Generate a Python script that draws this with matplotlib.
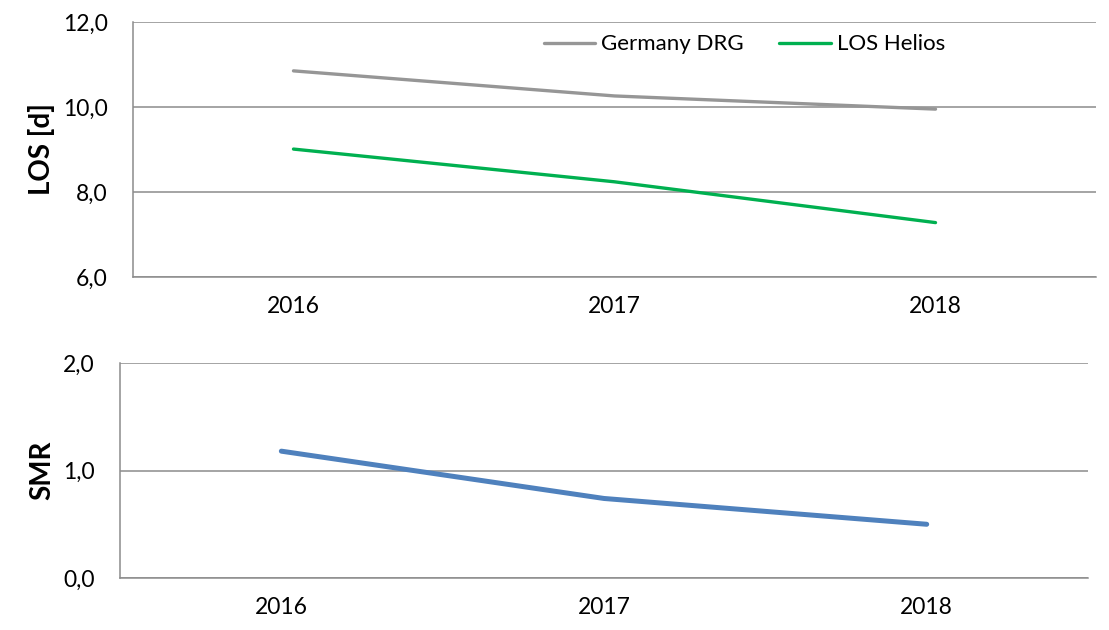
import matplotlib
matplotlib.use("Agg")
import matplotlib.pyplot as plt
from matplotlib.ticker import FuncFormatter

plt.rcParams['font.family'] = ['Lato', 'DejaVu Sans']

years = ['2016', '2017', '2018']
los_germany = [10.85, 10.26, 9.95]
los_helios = [9.01, 8.24, 7.28]
smr = [1.18, 0.74, 0.50]

GRID = '#8c8c8c'


def comma_fmt(v, pos):
    return f'{v:.1f}'.replace('.', ',')


def style_axis(ax, yticks, ylabel):
    ax.set_xlim(-0.5, len(years) - 0.5)
    ax.set_xticks(range(len(years)))
    ax.set_xticklabels(years)
    ax.set_ylim(yticks[0], yticks[-1])
    ax.set_yticks(yticks)
    ax.yaxis.set_major_formatter(FuncFormatter(comma_fmt))
    ax.tick_params(axis='both', length=0, labelsize=16.5)
    ax.tick_params(axis='y', pad=18)
    ax.tick_params(axis='x', pad=14)
    ax.grid(axis='y', color=GRID, linewidth=1.1)
    ax.set_axisbelow(True)
    for s in ['top', 'right']:
        ax.spines[s].set_visible(False)
    for s in ['left', 'bottom']:
        ax.spines[s].set_color(GRID)
        ax.spines[s].set_linewidth(1.1)
    ax.set_ylabel(ylabel, fontsize=20, fontweight='bold', labelpad=6)


fig = plt.figure(figsize=(11.09, 6.30), dpi=100)
ax1 = fig.add_axes([0.1199, 0.5603, 0.8684, 0.4048])
ax2 = fig.add_axes([0.1082, 0.0825, 0.8729, 0.3413])

x = range(len(years))
ax1.plot(x, los_germany, color='#969696', lw=2.4, label='Germany DRG', solid_capstyle='round')
ax1.plot(x, los_helios, color='#00b050', lw=2.4, label='LOS Helios', solid_capstyle='round')
style_axis(ax1, [6, 8, 10, 12], 'LOS [d]')
ax1.legend(loc='upper center', bbox_to_anchor=(0.635, 1.03), ncol=2, frameon=False,
           fontsize=16, handlelength=2.3, handletextpad=0.3, columnspacing=1.6)

ax2.plot(x, smr, color='#4f81bd', lw=3.6, solid_capstyle='round')
style_axis(ax2, [0, 1, 2], 'SMR')

fig.savefig('out.png', dpi=100)
